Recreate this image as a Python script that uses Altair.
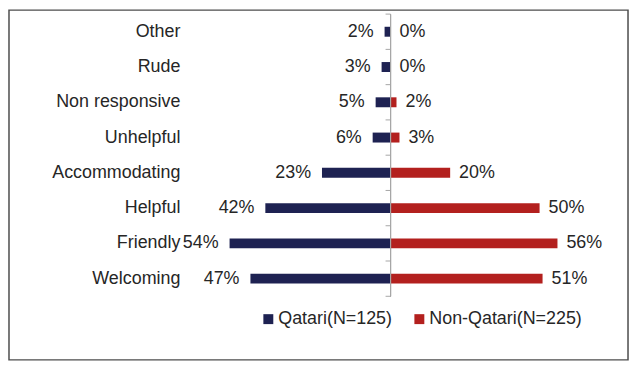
import altair as alt
import pandas as pd

categories = ["Other", "Rude", "Non responsive", "Unhelpful",
              "Accommodating", "Helpful", "Friendly", "Welcoming"]
qatari = [2, 3, 5, 6, 23, 42, 54, 47]
non_qatari = [0, 0, 2, 3, 20, 50, 56, 51]
groups = ["Qatari(N=125)", "Non-Qatari(N=225)"]
colors = ["#1E2252", "#B3201E"]

rows = []
for c, q, n in zip(categories, qatari, non_qatari):
    rows.append({"category": c, "group": groups[0], "value": q, "signed": -q, "label": f"{q}%"})
    rows.append({"category": c, "group": groups[1], "value": n, "signed": n, "label": f"{n}%"})
df = pd.DataFrame(rows)

FONT = "Liberation Sans"
TXT = "#262626"

W, H = 420, 284
xscale = alt.Scale(domain=[-64, 76], nice=False)
yscale = alt.Scale(domain=categories, paddingInner=0, paddingOuter=0)

base = alt.Chart(df)

yenc = alt.Y("category:N", sort=categories, scale=yscale,
             axis=alt.Axis(title=None, domain=False, ticks=False, grid=False,
                           labelFontSize=18, labelFont=FONT, labelColor=TXT,
                           labelPadding=20, labelLimit=300))

bars = base.mark_bar(size=10).encode(
    x=alt.X("signed:Q", scale=xscale, axis=None),
    y=yenc,
    color=alt.Color("group:N", scale=alt.Scale(domain=groups, range=colors),
                    legend=alt.Legend(orient="none", legendX=60, legendY=298,
                                      direction="horizontal", title=None,
                                      symbolType="square", symbolSize=100,
                                      symbolStrokeWidth=0, padding=0,
                                      labelFontSize=18, labelFont=FONT,
                                      labelColor=TXT, labelOffset=1,
                                      columnPadding=18)),
)

txt_q = base.transform_filter(alt.datum.group == groups[0]).mark_text(
    align="right", baseline="middle", dx=-11, fontSize=18, font=FONT, color=TXT
).encode(x=alt.X("signed:Q", scale=xscale), y=alt.Y("category:N", sort=categories, scale=yscale),
         text="label:N")

txt_n = base.transform_filter(alt.datum.group == groups[1]).mark_text(
    align="left", baseline="middle", dx=9, fontSize=18, font=FONT, color=TXT
).encode(x=alt.X("signed:Q", scale=xscale), y=alt.Y("category:N", sort=categories, scale=yscale),
         text="label:N")

cat_df = pd.DataFrame({"category": categories})
zero_line = alt.Chart(cat_df).mark_rule(color="#A6A6A6", strokeWidth=1).encode(
    x=alt.datum(0), y=alt.value(0), y2=alt.value(H))

ticks_start = alt.Chart(cat_df).mark_rule(color="#A6A6A6", strokeWidth=1, x2Offset=-5).encode(
    x=alt.datum(0), x2=alt.datum(0),
    y=alt.Y("category:N", sort=categories, scale=yscale, bandPosition=0))
ticks_end = alt.Chart(pd.DataFrame({"category": [categories[-1]]})).mark_rule(
    color="#A6A6A6", strokeWidth=1, x2Offset=-5).encode(
    x=alt.datum(0), x2=alt.datum(0),
    y=alt.Y("category:N", sort=categories, scale=yscale, bandPosition=1))

border = alt.Chart(pd.DataFrame({"a": [0]})).mark_rect(
    fillOpacity=0, stroke="#4D4D4D", strokeWidth=1.5).encode(
    x=alt.value(-192), x2=alt.value(431), y=alt.value(-4), y2=alt.value(348))

chart = alt.layer(border, bars, zero_line, ticks_start, ticks_end, txt_q, txt_n).properties(
    width=W, height=H,
    autosize=alt.AutoSizeParams(type="none"),
    padding={"left": 193, "top": 5, "right": 13, "bottom": 66},
    background="white",
).configure_view(strokeWidth=0)

chart.save("out.html", embed_options={"renderer": "svg", "actions": False})
